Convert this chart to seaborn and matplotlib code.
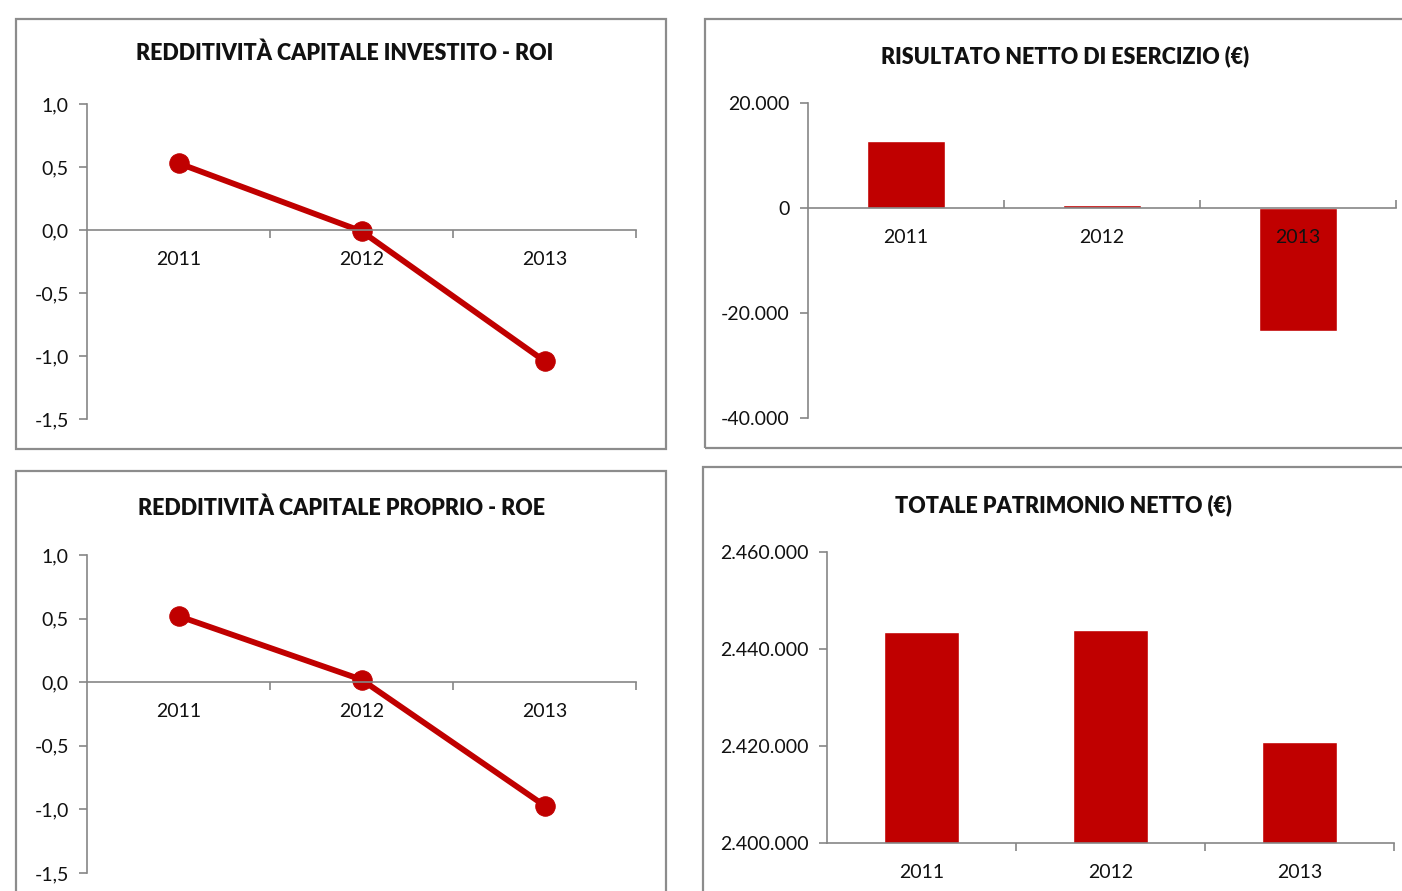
import matplotlib
matplotlib.use('Agg')
import matplotlib.pyplot as plt
import matplotlib.ticker as mticker
from matplotlib.patches import Rectangle
import seaborn as sns

# dati
anni = ['2011', '2012', '2013']
roi = [0.53, -0.01, -1.04]
roe = [0.52, 0.02, -0.97]
risultato_netto = [12800, 600, -23400]
patrimonio_netto = [2443500, 2443900, 2420800]

titoli = ['REDDITIVITÀ CAPITALE INVESTITO - ROI', 'RISULTATO NETTO DI ESERCIZIO (€)',
          'REDDITIVITÀ CAPITALE PROPRIO - ROE', 'TOTALE PATRIMONIO NETTO (€)']

ROSSO = '#C00000'
GRIGIO = '#868686'
W, H = 1402, 891

sns.set_style('white')
plt.rcParams['font.family'] = ['Lato', 'DejaVu Sans']

fig = plt.figure(figsize=(W / 100, H / 100), dpi=100)


def px_box(x0, y0, x1, y1):
    # pixel (top-left origin) -> figure fraction
    return [x0 / W, 1 - y1 / H, (x1 - x0) / W, (y1 - y0) / H]


def cornice(x0, y0, x1, y1):
    l, b, w, h = px_box(x0, y0, x1, y1)
    fig.patches.append(Rectangle((l, b), w, h, transform=fig.transFigure, fill=False,
                                 edgecolor='#8c8c8c', lw=1.6, zorder=0))


def fmt_dec(v, pos):
    return f'{v:.1f}'.replace('.', ',')


def fmt_mig(v, pos):
    return f'{v:,.0f}'.replace(',', '.')


def stile(ax, yticks, formatter, tick_dir, xpad=15):
    sns.despine(ax=ax, top=True, right=True)
    ax.set_axisbelow(False)
    ax.spines['bottom'].set_position(('data', 0))
    for s in ['left', 'bottom']:
        ax.spines[s].set_color(GRIGIO)
        ax.spines[s].set_linewidth(1.2)
    ax.set_yticks(yticks)
    ax.set_ylim(yticks[0], yticks[-1])
    ax.yaxis.set_major_formatter(mticker.FuncFormatter(formatter))
    ax.tick_params(axis='y', left=True, direction='out', length=6, width=1.2, color=GRIGIO,
                   labelsize=14, pad=7, labelcolor='#111111')
    ax.set_xlim(-0.5, 2.5)
    ax.set_xticks([0.5, 1.5, 2.5], minor=True)
    ax.tick_params(axis='x', which='major', bottom=True, length=0, labelsize=14, pad=xpad,
                   labelcolor='#111111')
    ax.tick_params(axis='x', which='minor', bottom=True, direction=tick_dir, length=6,
                   width=1.2, color=GRIGIO)
    ax.set_xlabel('')
    ax.set_ylabel('')
    ax.set_facecolor('none')


cornice(16, 19, 666, 449)
cornice(705, 19, 1450, 448)
cornice(16, 471, 666, 950)
cornice(703, 467, 1450, 950)

# ROI
ax1 = fig.add_axes(px_box(87, 104, 636, 419))
sns.lineplot(x=anni, y=roi, ax=ax1, color=ROSSO, linewidth=4.2, marker='o',
             markersize=14, markeredgecolor=ROSSO, sort=False)
stile(ax1, [-1.5, -1.0, -0.5, 0.0, 0.5, 1.0], fmt_dec, 'out')

# ROE
ax3 = fig.add_axes(px_box(87, 555, 636, 873))
sns.lineplot(x=anni, y=roe, ax=ax3, color=ROSSO, linewidth=4.2, marker='o',
             markersize=14, markeredgecolor=ROSSO, sort=False)
stile(ax3, [-1.5, -1.0, -0.5, 0.0, 0.5, 1.0], fmt_dec, 'out')

# risultato netto
ax2 = fig.add_axes(px_box(808, 103, 1396, 418))
sns.barplot(x=anni, y=risultato_netto, ax=ax2, color=ROSSO, width=0.4, saturation=1)
stile(ax2, [-40000, -20000, 0, 20000], fmt_mig, 'in')

# patrimonio netto
ax4 = fig.add_axes(px_box(827, 552, 1394, 843))
sns.barplot(x=anni, y=patrimonio_netto, ax=ax4, color=ROSSO, width=0.4, saturation=1)
stile(ax4, [2400000, 2420000, 2440000, 2460000], fmt_mig, 'out')
ax4.spines['bottom'].set_position(('data', 2400000))

for (x, y), t in zip([(345, 53), (1065, 56), (341, 508), (1063, 505)], titoli):
    fig.text(x / W, 1 - y / H, t, ha='center', va='center', fontsize=15.5,
             fontweight='heavy', color='#111111')

fig.savefig('out.png', dpi=100)
